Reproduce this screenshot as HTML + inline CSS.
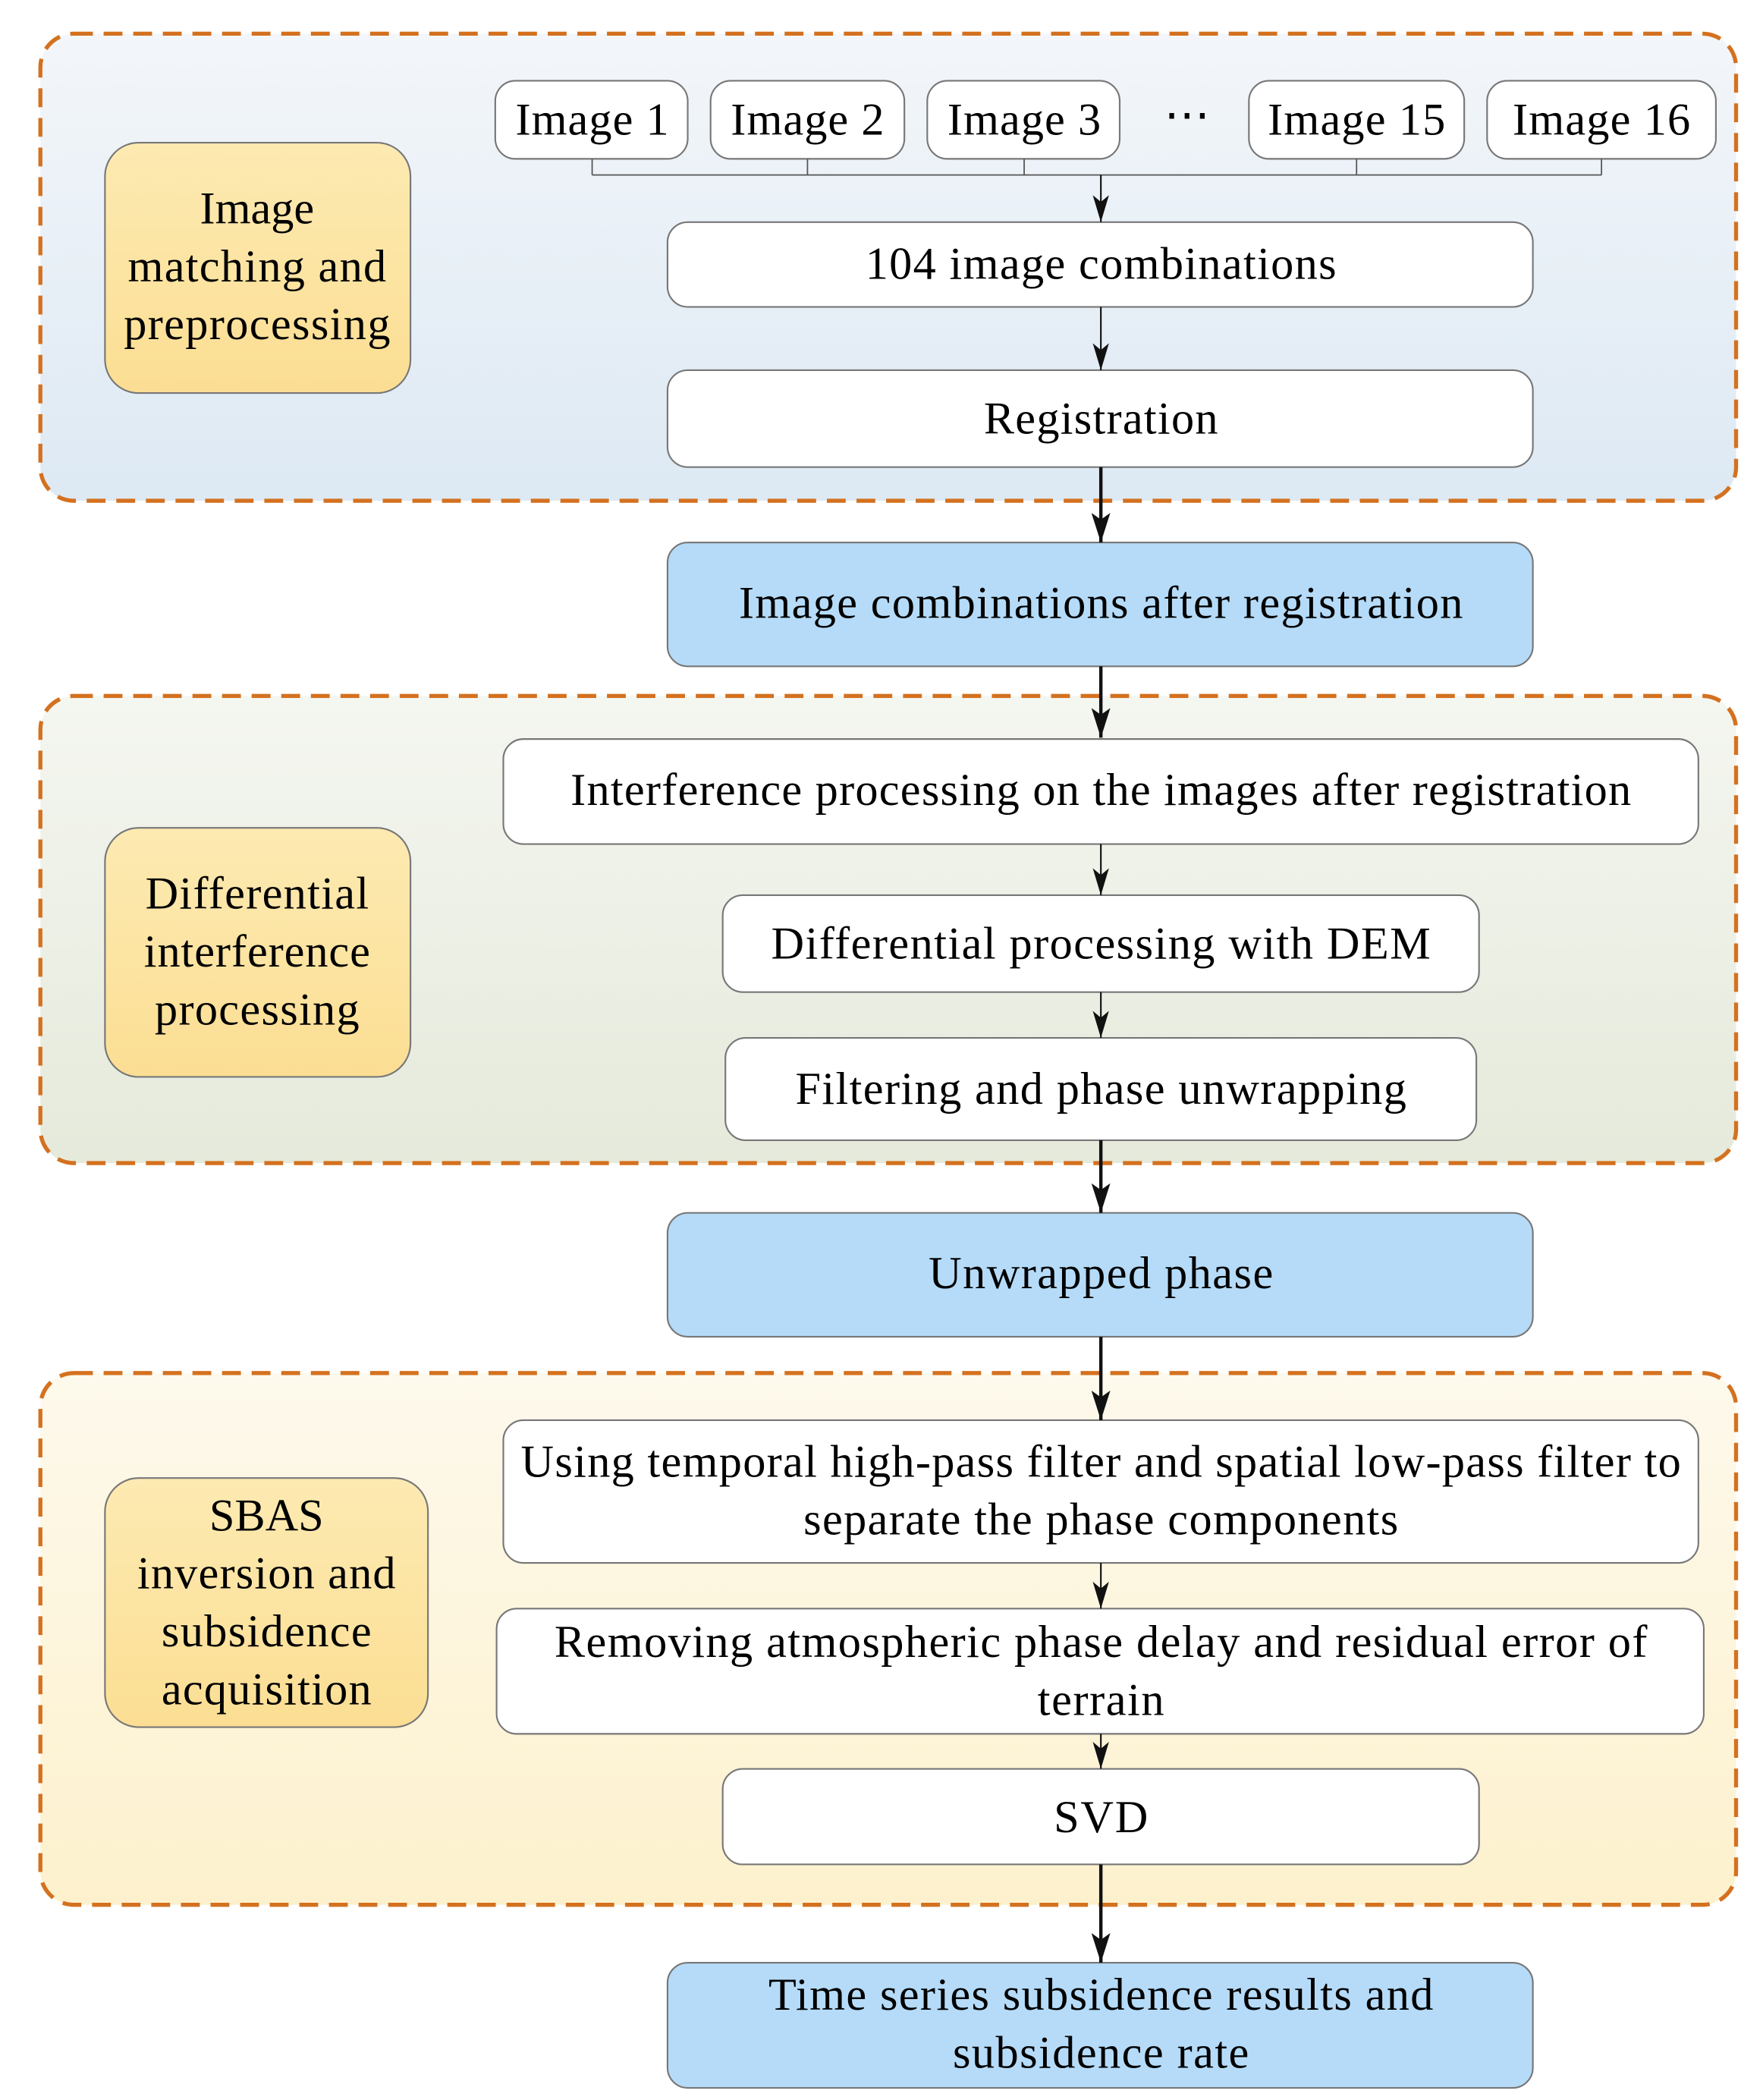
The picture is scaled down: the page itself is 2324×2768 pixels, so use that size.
<!DOCTYPE html>
<html><head><meta charset="utf-8"><style>html,body{margin:0;padding:0;background:#fff}svg{display:block}</style></head>
<body>
<svg width="2324" height="2768" viewBox="0 0 1310 1560" preserveAspectRatio="none" xmlns="http://www.w3.org/2000/svg" font-family="'Liberation Serif', serif" font-size="34">
<defs>
<linearGradient id="g1" x1="0" y1="0" x2="0" y2="1"><stop offset="0" stop-color="#f3f6fa"/><stop offset="1" stop-color="#dde9f3"/></linearGradient>
<linearGradient id="g2" x1="0" y1="0" x2="0" y2="1"><stop offset="0" stop-color="#f4f6f0"/><stop offset="1" stop-color="#e5eadb"/></linearGradient>
<linearGradient id="g3" x1="0" y1="0" x2="0" y2="1"><stop offset="0" stop-color="#fdf9ec"/><stop offset="1" stop-color="#fdf1cd"/></linearGradient>
<linearGradient id="gy" x1="0" y1="0" x2="0" y2="1"><stop offset="0" stop-color="#fdeab2"/><stop offset="1" stop-color="#fbde93"/></linearGradient>
<marker id="a" viewBox="0 0 20 12" refX="20" refY="6" markerWidth="20" markerHeight="12" markerUnits="userSpaceOnUse" orient="auto"><path d="M0,0 L20,6 L0,12 L5,6 z" fill="#111"/></marker>
<marker id="ab" viewBox="0 0 22 14" refX="22" refY="7" markerWidth="22" markerHeight="14" markerUnits="userSpaceOnUse" orient="auto"><path d="M0,0 L22,7 L0,14 L5,7 z" fill="#111"/></marker>
</defs>
<g stroke="#d4711f" stroke-width="3" stroke-dasharray="14 8">
<rect x="30" y="25" width="1260" height="347" rx="25" fill="url(#g1)"/>
<rect x="30" y="517" width="1260" height="347" rx="25" fill="url(#g2)"/>
<rect x="30" y="1020" width="1260" height="395" rx="25" fill="url(#g3)"/>
</g>
<g stroke="#777" stroke-width="1.2">
<rect x="78" y="106" width="227" height="186" rx="25" fill="url(#gy)"/>
<rect x="78" y="615" width="227" height="185" rx="25" fill="url(#gy)"/>
<rect x="78" y="1098" width="240" height="185" rx="25" fill="url(#gy)"/>
<g fill="#fff">
<rect x="368" y="60" width="143" height="58" rx="15"/>
<rect x="528" y="60" width="144" height="58" rx="15"/>
<rect x="689" y="60" width="143" height="58" rx="15"/>
<rect x="928" y="60" width="160" height="58" rx="15"/>
<rect x="1105" y="60" width="170" height="58" rx="15"/>
<rect x="496" y="165" width="643" height="63" rx="15"/>
<rect x="496" y="275" width="643" height="72" rx="15"/>
<rect x="374" y="549" width="888" height="78" rx="15"/>
<rect x="537" y="665" width="562" height="72" rx="15"/>
<rect x="539" y="771" width="558" height="76" rx="15"/>
<rect x="374" y="1055" width="888" height="106" rx="15"/>
<rect x="369" y="1195" width="897" height="93" rx="15"/>
<rect x="537" y="1314" width="562" height="71" rx="15"/>
</g>
<g fill="#b5dbf8">
<rect x="496" y="403" width="643" height="92" rx="15"/>
<rect x="496" y="901" width="643" height="92" rx="15"/>
<rect x="496" y="1458" width="643" height="93" rx="15"/>
</g>
</g>
<g stroke="#555" stroke-width="1" fill="none">
<path d="M440,118V130M600,118V130M761,118V130M1008,118V130M1190,118V130M440,130H1190"/>
</g>
<g stroke="#111" stroke-width="1.2">
<line x1="818" y1="130" x2="818" y2="165" marker-end="url(#a)"/>
<line x1="818" y1="228" x2="818" y2="275" marker-end="url(#a)"/>
<line x1="818" y1="627" x2="818" y2="665" marker-end="url(#a)"/>
<line x1="818" y1="737" x2="818" y2="771" marker-end="url(#a)"/>
<line x1="818" y1="1161" x2="818" y2="1195" marker-end="url(#a)"/>
<line x1="818" y1="1288" x2="818" y2="1314" marker-end="url(#a)"/>
</g>
<g stroke="#111" stroke-width="2.5">
<line x1="818" y1="347" x2="818" y2="403" marker-end="url(#ab)"/>
<line x1="818" y1="495" x2="818" y2="548" marker-end="url(#ab)"/>
<line x1="818" y1="847" x2="818" y2="901" marker-end="url(#ab)"/>
<line x1="818" y1="993" x2="818" y2="1055" marker-end="url(#ab)"/>
<line x1="818" y1="1385" x2="818" y2="1458" marker-end="url(#ab)"/>
</g>
<g fill="#000" text-anchor="middle" dominant-baseline="central">
<text x="191" y="155">Image</text><text x="191" y="198" textLength="192">matching and</text><text x="191" y="241" textLength="198">preprocessing</text>
<text x="191" y="664" textLength="166">Differential</text><text x="191" y="707" textLength="168">interference</text><text x="191" y="750" textLength="152">processing</text>
<text x="198" y="1126">SBAS</text><text x="198" y="1169" textLength="192">inversion and</text><text x="198" y="1212" textLength="156">subsidence</text><text x="198" y="1255" textLength="156">acquisition</text>
<text x="440" y="89" textLength="114">Image 1</text><text x="600" y="89" textLength="114">Image 2</text><text x="761" y="89" textLength="114">Image 3</text>
<text x="882" y="86">⋯</text>
<text x="1008" y="89" textLength="132">Image 15</text><text x="1190" y="89" textLength="132">Image 16</text>
<text x="818" y="196" textLength="350">104 image combinations</text>
<text x="818" y="311" textLength="174">Registration</text>
<text x="818" y="448" textLength="538">Image combinations after registration</text>
<text x="818" y="587" textLength="788">Interference processing on the images after registration</text>
<text x="818" y="701" textLength="490">Differential processing with DEM</text>
<text x="818" y="809" textLength="454">Filtering and phase unwrapping</text>
<text x="818" y="946" textLength="256">Unwrapped phase</text>
<text x="818" y="1086" textLength="862">Using temporal high-pass filter and spatial low-pass filter to</text>
<text x="818" y="1129" textLength="442">separate the phase components</text>
<text x="818" y="1220" textLength="812">Removing atmospheric phase delay and residual error of</text>
<text x="818" y="1263" textLength="94">terrain</text>
<text x="818" y="1350" textLength="70">SVD</text>
<text x="818" y="1482" textLength="494">Time series subsidence results and</text>
<text x="818" y="1525" textLength="220">subsidence rate</text>
</g>
</svg>
</body></html>
